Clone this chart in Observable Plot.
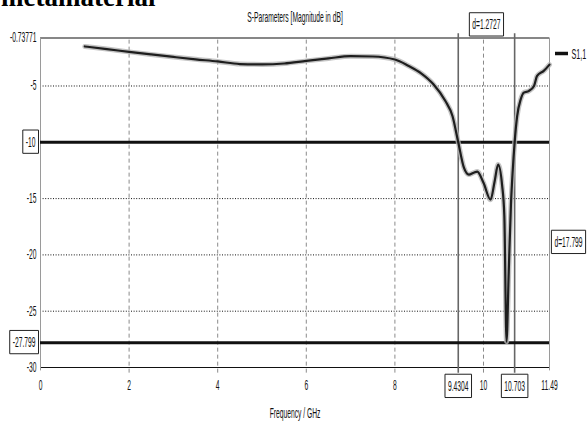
<!DOCTYPE html>
<html>
<head>
<meta charset="utf-8">
<script src="https://cdn.jsdelivr.net/npm/d3@7"></script>
<script src="https://cdn.jsdelivr.net/npm/@observablehq/plot@0.6"></script>
<style>
  html, body { margin: 0; padding: 0; background: white; }
  #chart { position: relative; width: 587px; height: 423px; overflow: hidden; }
</style>
</head>
<body>
<div id="chart"></div>
<script>
// ---- data ----
const freq = [1.0,1.5,2.0,2.5,3.0,3.5,4.0,4.5,5.0,5.5,6.0,6.5,7.0,7.5,8.0,8.3,8.6,8.87,9.14,9.3,9.43,9.56,9.67,9.78,9.86,10.0,10.16,10.25,10.33,10.42,10.47,10.52,10.57,10.62,10.66,10.703,10.76,10.84,10.91,11.02,11.14,11.21,11.36,11.49];
const s11  = [-1.49,-1.72,-1.97,-2.2,-2.42,-2.63,-2.82,-3.05,-3.08,-3.0,-2.77,-2.55,-2.35,-2.38,-2.65,-3.2,-3.9,-4.85,-6.34,-7.67,-10,-12.28,-12.87,-12.7,-12.6,-13.6,-15.1,-13.5,-11.98,-13.8,-16.5,-27.7,-21.5,-15.5,-12.5,-10,-7.67,-6.19,-5.59,-5.45,-5.0,-4.11,-3.66,-3.1];
const xTicks = [0,2,4,6,8,9.4304,10,10.703,11.49];
const xBoxed = [9.4304,10.703];
const yTicks = [-0.73771,-5,-15,-20,-25,-30];
const yBoxed = [-10,-27.799];
const xGrid = [2,4,6,8,10];
const yGrid = [-5,-15,-20,-25];
const markers = [9.4304,10.703];
const levels = [-10,-27.799];
const title = "S-Parameters [Magnitude in dB]";
const xLabel = "Frequency / GHz";
const seriesName = "S1,1";
const dxLabel = "d=1.2727";
const dyLabel = "d=17.799";
const header = "metamaterial";

const data = freq.map((f, i) => ({f, v: s11[i]}));
const SX = 0.48;

const chart = Plot.plot({
  width: 587,
  height: 423,
  marginLeft: 40,
  marginRight: 38,
  marginTop: 37.5,
  marginBottom: 56,
  x: {domain: [0, 11.49], axis: null},
  y: {domain: [-30, -0.73771], axis: null},
  style: {fontFamily: "Liberation Sans, Arial, sans-serif", fontSize: "14px", background: "white", color: "#111", overflow: "visible"},
  marks: [
    Plot.ruleX(xGrid, {y1: -30.5, y2: -0.73771, stroke: "#8a8a8a", strokeDasharray: "4,3", strokeWidth: 1}),
    Plot.ruleY(yGrid, {stroke: "#111", strokeDasharray: "1,1.6", strokeWidth: 1}),
    Plot.ruleY([-30, -0.73771], {stroke: "#111", strokeWidth: 1.2}),
    Plot.ruleX([0, 11.49], {y1: -30.3, y2: -0.73771, stroke: "#9a9a9a", strokeWidth: 1}),
    Plot.ruleX(markers, {y1: -30.5, y2: -0.35, stroke: "#666", strokeWidth: 1.6}),
    Plot.ruleY(levels, {stroke: "#111", strokeWidth: 3}),
    Plot.line(data, {x: "f", y: "v", stroke: "#b5b5b5", strokeWidth: 5, curve: "monotone-x", strokeOpacity: 0.8}),
    Plot.line(data, {x: "f", y: "v", stroke: "#1e1e1e", strokeWidth: 2.2, curve: "monotone-x"}),
    Plot.text(xTicks.filter(d => !xBoxed.includes(d)), {x: d => d, frameAnchor: "bottom", dy: 18, lineAnchor: "middle", text: d => String(d), fill: "#111"}),
    Plot.text(xBoxed, {x: d => d, frameAnchor: "bottom", dy: 19, lineAnchor: "middle", text: d => String(d), fill: "#111", className: "boxed"}),
    Plot.text(yTicks, {y: d => d, frameAnchor: "left", dx: -4, textAnchor: "end", lineAnchor: "middle", text: d => String(d), fill: "#111"}),
    Plot.text(yBoxed, {y: d => d, frameAnchor: "left", dx: -5, textAnchor: "end", lineAnchor: "middle", text: d => String(d), fill: "#111", className: "boxed"}),
    Plot.text([xLabel], {frameAnchor: "bottom", dy: 46, lineAnchor: "middle", text: d => d, fill: "#111"}),
    Plot.text([title], {frameAnchor: "top", dy: -20.5, lineAnchor: "middle", text: d => d, fill: "#111"}),
    Plot.text([dxLabel], {x: d3.mean(markers), frameAnchor: "top", dy: -13, lineAnchor: "middle", text: d => d, fill: "#111", className: "boxed"}),
    Plot.text([dyLabel], {y: d3.mean(levels), frameAnchor: "right", dx: 19, textAnchor: "middle", lineAnchor: "middle", text: d => d, fill: "#111", className: "boxed"}),
    Plot.text([seriesName], {frameAnchor: "top-right", dx: 22, dy: 16, textAnchor: "start", lineAnchor: "middle", text: d => d, fill: "#111", fontSize: 15})
  ]
});

document.getElementById("chart").appendChild(chart);
const svg = d3.select(chart);

svg.selectAll("text").each(function() {
  const t = this.getAttribute("transform") || "";
  this.setAttribute("transform", t + ` scale(${SX},1)`);
});

svg.selectAll("g.boxed text").each(function() {
  const b = this.getBBox();
  const padX = 3, padY = 4;
  const r = document.createElementNS("http://www.w3.org/2000/svg", "rect");
  r.setAttribute("x", b.x - padX / SX);
  r.setAttribute("y", b.y - padY);
  r.setAttribute("width", b.width + 2 * padX / SX);
  r.setAttribute("height", b.height + 2 * padY);
  r.setAttribute("transform", this.getAttribute("transform"));
  r.setAttribute("fill", "white");
  r.setAttribute("stroke", "#222");
  r.setAttribute("stroke-width", "1");
  r.setAttribute("vector-effect", "non-scaling-stroke");
  this.parentNode.insertBefore(r, this);
});

const xs = chart.scale("x"), ys = chart.scale("y");
const xr = xs.range[1], yt = ys.range[1];
svg.append("line")
  .attr("x1", xr + 6).attr("x2", xr + 19)
  .attr("y1", yt + 16).attr("y2", yt + 16)
  .attr("stroke", "#111").attr("stroke-width", 3.5);

// document header that the reference shows clipped at the top edge
svg.append("text")
  .attr("x", 1).attr("y", 6)
  .attr("text-anchor", "start")
  .attr("font-family", "Liberation Serif, Times New Roman, serif")
  .attr("font-weight", "bold")
  .attr("font-size", 27)
  .attr("fill", "#000")
  .text(header);
</script>
</body>
</html>
